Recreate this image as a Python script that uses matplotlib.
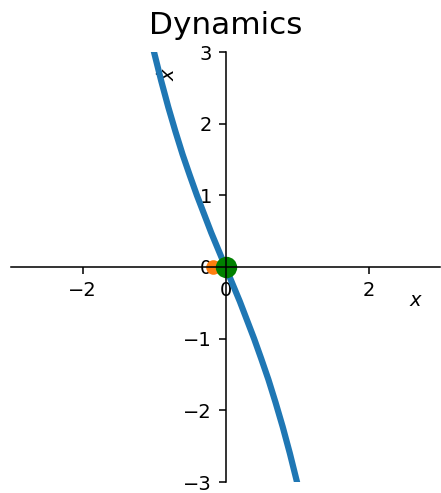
import matplotlib
matplotlib.use("Agg")
import matplotlib.pyplot as plt

# Phase-line samples: state x and its rate of change x_dot
x_vals = [-1.10, -1.0, -0.9, -0.8, -0.7, -0.6, -0.5, -0.4, -0.3, -0.2, -0.1, 0.0,
          0.1, 0.2, 0.3, 0.4, 0.5, 0.6, 0.7, 0.8, 0.9, 1.0, 1.10]
xdot_vals = [3.44, 3.00, 2.60, 2.23, 1.89, 1.57, 1.28, 1.00, 0.74, 0.48, 0.24, 0.0,
             -0.24, -0.48, -0.74, -1.00, -1.28, -1.57, -1.89, -2.23, -2.60, -3.00, -3.44]

# Marked states
start_x, start_y = [-0.17], [0.0]
fixed_x, fixed_y = [0.0], [0.0]

x_ticks = [-2, 0, 2]
y_ticks = [-3, -2, -1, 0, 1, 2, 3]

dpi = 140
fig = plt.figure(figsize=(441 / dpi, 493 / dpi), dpi=dpi)
ax = fig.add_axes([11 / 441, 11 / 493, 429 / 441, 430 / 493])

ax.plot(x_vals, xdot_vals, color="C0", lw=3.2)
ax.plot(start_x, start_y, "o", color="C1", ms=6.5)
ax.plot(fixed_x, fixed_y, "o", color="green", ms=10)

ax.set_xlim(-3, 3)
ax.set_ylim(-3, 3)
ax.set_xticks(x_ticks)
ax.set_yticks(y_ticks)

ax.spines["left"].set_position("zero")
ax.spines["bottom"].set_position("zero")
ax.spines["right"].set_visible(False)
ax.spines["top"].set_visible(False)

ax.text(0.945, 0.423, "$x$", transform=ax.transAxes, ha="center", va="center")
ax.text(0.367, 0.949, r"$\dot{x}$", transform=ax.transAxes, ha="center",
        va="center", rotation=90, zorder=1)

ax.set_title("Dynamics", fontsize=16, pad=9)

fig.savefig("out.png", dpi=dpi)
